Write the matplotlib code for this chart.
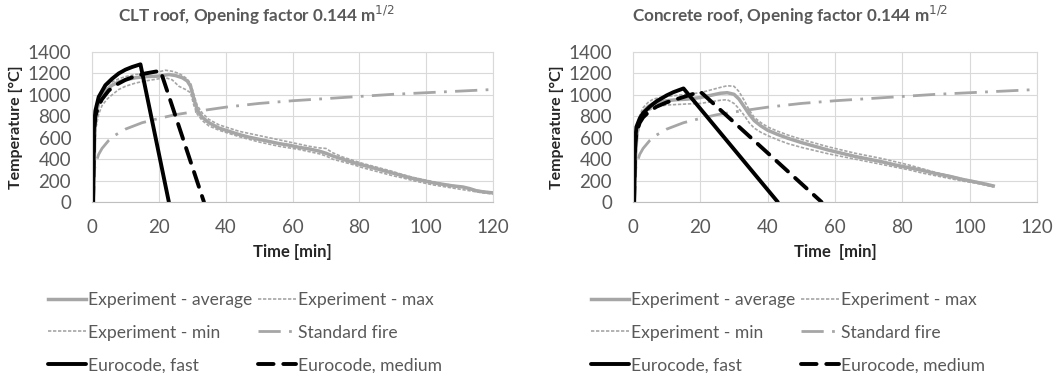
import numpy as np
import matplotlib.pyplot as plt

plt.rcParams['font.family'] = ['Lato', 'DejaVu Sans']

# %% data
# CLT roof
clt_avg_t = [0.5, 0.8, 1.2, 2, 3, 4.5, 6, 8, 10, 13, 16, 20, 23, 25, 27, 28.5, 29.5, 30.5, 31.5, 33, 35, 38, 41, 44, 47, 50, 53, 56, 59, 62, 65, 68, 70, 72, 75, 78, 81, 84, 87, 90, 93, 96, 99, 102, 105, 108, 111, 113, 115, 117, 120]
clt_avg_T = [0, 600, 820, 920, 990, 1050, 1090, 1120, 1140, 1160, 1170, 1175, 1190, 1180, 1160, 1130, 1080, 960, 860, 790, 740, 690, 660, 630, 605, 585, 565, 545, 530, 510, 495, 475, 455, 430, 400, 370, 345, 320, 295, 270, 245, 220, 200, 180, 165, 150, 140, 125, 105, 95, 85]
clt_max_t = [0.5, 0.8, 1.2, 2, 3, 4.5, 6, 8, 10, 13, 16, 20, 22, 24, 26, 28, 29.5, 30.5, 31.5, 33, 35, 38, 41, 44, 47, 50, 53, 56, 59, 62, 65, 68, 70, 72, 75, 78, 81, 84, 87, 90, 93, 96, 99, 102, 105, 108, 111, 113, 115, 117, 120]
clt_max_T = [0, 650, 860, 960, 1030, 1090, 1120, 1150, 1170, 1190, 1200, 1215, 1230, 1220, 1200, 1160, 1110, 1000, 900, 830, 770, 720, 690, 660, 640, 620, 600, 580, 560, 540, 520, 505, 500, 460, 420, 390, 360, 335, 310, 285, 255, 230, 210, 190, 170, 155, 140, 125, 110, 100, 90]
clt_min_t = [0.5, 0.8, 1.2, 2, 3, 4.5, 6, 8, 10, 13, 16, 20, 22, 24, 26, 28, 29.5, 30.5, 31.5, 33, 35, 38, 41, 44, 47, 50, 53, 56, 59, 62, 65, 68, 70, 72, 75, 78, 81, 84, 87, 90, 93, 96, 99, 102, 105, 108, 111, 113, 115, 117, 120]
clt_min_T = [0, 450, 700, 820, 900, 960, 1000, 1050, 1080, 1110, 1130, 1150, 1160, 1140, 1080, 1050, 1020, 900, 820, 760, 710, 670, 640, 610, 585, 560, 540, 520, 505, 490, 470, 450, 430, 400, 375, 350, 320, 295, 270, 245, 225, 200, 180, 160, 145, 130, 115, 105, 95, 85, 75]
clt_fast_t = [0.3, 0.6, 1, 2, 4, 6, 8, 10, 12, 14.5, 23]
clt_fast_T = [0, 700, 850, 980, 1090, 1150, 1200, 1235, 1260, 1285, 0]
clt_med_t = [0.3, 0.6, 1, 2, 3, 5, 7, 10, 13, 16, 20.5, 33.5]
clt_med_T = [0, 650, 800, 900, 960, 1040, 1090, 1140, 1175, 1200, 1225, 0]

# Concrete roof
con_avg_t = [0.5, 0.8, 1.2, 2, 3, 4.5, 6, 8, 10, 13, 16, 20, 23, 26, 28, 30, 31.5, 33, 34.5, 36, 38, 40, 43, 46, 50, 54, 58, 62, 66, 70, 74, 78, 82, 86, 90, 94, 98, 102, 105, 107]
con_avg_T = [0, 450, 650, 760, 840, 890, 920, 935, 945, 955, 960, 975, 995, 1015, 1020, 1005, 960, 890, 820, 760, 710, 670, 630, 595, 555, 520, 485, 455, 425, 400, 375, 345, 320, 295, 265, 240, 210, 185, 165, 150]
con_max_t = [0.5, 0.8, 1.2, 2, 3, 4.5, 6, 8, 10, 13, 16, 20, 23, 26, 28, 30, 31.5, 33, 34.5, 36, 38, 40, 43, 46, 50, 54, 58, 62, 66, 70, 74, 78, 82, 86, 90, 94, 98, 102, 105, 107]
con_max_T = [0, 500, 700, 810, 880, 930, 960, 975, 985, 995, 1005, 1020, 1045, 1070, 1085, 1080, 1030, 950, 860, 790, 740, 700, 660, 625, 585, 550, 515, 485, 455, 430, 405, 375, 345, 310, 275, 245, 215, 190, 170, 155]
con_min_t = [0.5, 0.8, 1.2, 2, 3, 4.5, 6, 8, 10, 13, 16, 20, 23, 26, 28, 30, 31.5, 33, 34.5, 36, 38, 40, 43, 46, 50, 54, 58, 62, 66, 70, 74, 78, 82, 86, 90, 94, 98, 102, 105, 107]
con_min_T = [0, 400, 600, 720, 800, 850, 880, 895, 905, 910, 915, 920, 935, 950, 955, 920, 870, 810, 740, 690, 650, 620, 580, 545, 510, 480, 450, 425, 400, 375, 350, 325, 300, 270, 245, 220, 195, 175, 155, 140]
con_fast_t = [0.3, 0.6, 1, 2, 3, 5, 7, 10, 12, 15, 43]
con_fast_T = [0, 550, 700, 780, 830, 890, 940, 995, 1025, 1060, 0]
con_med_t = [0.3, 0.6, 1, 2, 3, 5, 7, 10, 14, 17, 20, 56]
con_med_T = [0, 500, 650, 740, 790, 850, 890, 930, 970, 1000, 1030, 0]

# standard fire curve values read at these times
std_t = [0, 0.5, 1, 2, 3, 5, 7, 10, 15, 20, 25, 30, 40, 50, 60, 70, 80, 90, 100, 110, 120]
std_T = [20, 260, 350, 445, 500, 575, 625, 680, 740, 780, 815, 840, 885, 920, 945, 965, 985, 1005, 1020, 1035, 1050]

titles = ['CLT roof, Opening factor 0.144 m$^{1/2}$', 'Concrete roof, Opening factor 0.144 m$^{1/2}$']
xlabels = ['Time [min]', 'Time  [min]']

# %% plot
gray = '#A6A6A6'
txt = '#595959'

fig = plt.figure(figsize=(10.57, 3.73), dpi=100)
ax1 = fig.add_axes([92/1057, 1-202/373, 401/1057, 150/373])
ax2 = fig.add_axes([633/1057, 1-202/373, 404/1057, 150/373])

sets = [(clt_avg_t, clt_avg_T, clt_max_t, clt_max_T, clt_min_t, clt_min_T, clt_fast_t, clt_fast_T, clt_med_t, clt_med_T),
        (con_avg_t, con_avg_T, con_max_t, con_max_T, con_min_t, con_min_T, con_fast_t, con_fast_T, con_med_t, con_med_T)]
title_x = [256/1057, 790/1057]
leg_x = [-0.11, -0.104]

for i, (ax, d) in enumerate(zip([ax1, ax2], sets)):
    a, = ax.plot(d[0], d[1], color=gray, lw=2.5)
    mx, = ax.plot(d[2], d[3], color=gray, lw=1.2, ls=(0, (2, 1)))
    mn, = ax.plot(d[4], d[5], color=gray, lw=1.2, ls=(0, (2, 1)))
    sf, = ax.plot(std_t, std_T, color=gray, lw=2, ls=(0, (8, 3, 1, 3)))
    f, = ax.plot(d[6], d[7], color='black', lw=2.8, solid_capstyle='round')
    m, = ax.plot(d[8], d[9], color='black', lw=2.8, ls=(0, (4, 2.5)), dash_capstyle='round')

    ax.set_xlim(0, 120)
    ax.set_ylim(0, 1400)
    ax.set_xticks(np.arange(0, 121, 20))
    ax.set_yticks(np.arange(0, 1401, 200))
    ax.grid(color='#D9D9D9', lw=0.8)
    ax.set_axisbelow(True)
    for s in ax.spines.values():
        s.set_color('#D9D9D9')
    ax.spines['bottom'].set_color('#BFBFBF')
    ax.tick_params(length=0, labelsize=13.5, colors=txt)
    ax.tick_params(axis='y', pad=15)
    ax.tick_params(axis='x', pad=12)
    fig.text(title_x[i], 1 - 15/373, titles[i], fontsize=12.3, fontweight='bold', color=txt,
             ha='center', va='center')
    ax.set_xlabel(xlabels[i], fontsize=12, fontweight='bold', color='#262626', labelpad=6)
    ax.set_ylabel('Temperature [°C]', fontsize=11.5, fontweight='bold', color='#262626', labelpad=3)

    ax.legend([a, mn, f, mx, sf, m],
              ['Experiment - average', 'Experiment - min', 'Eurocode, fast',
               'Experiment - max', 'Standard fire', 'Eurocode, medium'],
              ncol=2, frameon=False, loc='upper left', bbox_to_anchor=(leg_x[i], -0.6),
              fontsize=12.6, labelcolor=txt, handlelength=2.2, handletextpad=0.1,
              columnspacing=0.3, labelspacing=0.95, borderaxespad=0, borderpad=0)

plt.savefig('out.png', dpi=100)
